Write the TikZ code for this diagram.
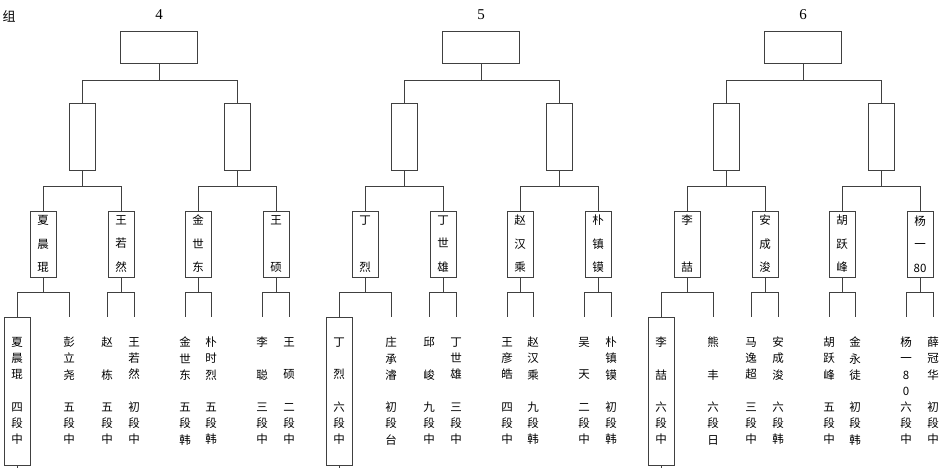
\documentclass[tikz,border=0pt]{standalone}
\usepackage{fontspec}
\newfontfamily\cjk{Noto Sans CJK SC}
\newfontfamily\numfont{Liberation Serif}
\tikzset{
	wire/.style={draw=black!75, line width=1pt},
	final/.style={wire, minimum width=77pt, minimum height=32pt, inner sep=0pt},
	semi/.style={wire, minimum width=26pt, minimum height=66pt, inner sep=0pt},
	quarter/.style={semi, align=center, font=\cjk\fontsize{11.5}{23.5}\selectfont},
	seat/.style={minimum width=26pt, minimum height=148pt, inner sep=0pt, align=center, font=\cjk\fontsize{11.5}{16.2}\selectfont},
	winner/.style={seat, wire},
	groupno/.style={font=\numfont\fontsize{15}{18}\selectfont}
}
\begin{document}
\begin{tikzpicture}[x=1pt, y=-1pt]
		\useasboundingbox (0,0) rectangle (950,468);
		\node[font=\cjk\fontsize{13}{15}\selectfont] (zu) at (9,16) {组};
		
		% group 4
		\begin{scope}[shift={(159,0)}]
		\node[groupno] (n4) at (0,15) {4};
		\node[final] (f4) at (0,48) {};
		\node[semi] (h4a) at (-77,137) {};
		\node[semi] (h4b) at (78,137) {};
		\node[quarter] (q4a) at (-116,244) {夏\\晨\\琨};
		\node[quarter] (q4b) at (-38,244) {王\\若\\然};
		\node[quarter] (q4c) at (39,244) {金\\世\\东};
		\node[quarter] (q4d) at (117,244) {王\\~\\硕};
		\node[winner] (s4a) at (-142,391) {夏\\晨\\琨\\~\\四\\段\\中};
		\node[seat] (s4b) at (-90,391) {彭\\立\\尧\\~\\五\\段\\中};
		\node[seat] (s4c) at (-52,391) {赵\\~\\栋\\~\\五\\段\\中};
		\node[seat] (s4d) at (-25,391) {王\\若\\然\\~\\初\\段\\中};
		\node[seat] (s4e) at (26,391) {金\\世\\东\\~\\五\\段\\韩};
		\node[seat] (s4f) at (52,391) {朴\\时\\烈\\~\\五\\段\\韩};
		\node[seat] (s4g) at (103,391) {李\\~\\聪\\~\\三\\段\\中};
		\node[seat] (s4h) at (130,391) {王\\~\\硕\\~\\二\\段\\中};
		
		\draw[wire] (f4.south) -- ++(0,16);
		\draw[wire] (h4a.north) |- ([yshift=-16pt]f4.south) -| (h4b.north);
		\draw[wire] (h4a.south) -- ++(0,16);
		\draw[wire] (q4a.north) |- ([yshift=-16pt]h4a.south) -| (q4b.north);
		\draw[wire] (h4b.south) -- ++(0,16);
		\draw[wire] (q4c.north) |- ([yshift=-16pt]h4b.south) -| (q4d.north);
		\draw[wire] (q4a.south) -- ++(0,15);
		\draw[wire] (s4a.north) |- ([yshift=-15pt]q4a.south) -| (s4b.north);
		\draw[wire] (q4b.south) -- ++(0,15);
		\draw[wire] (s4c.north) |- ([yshift=-15pt]q4b.south) -| (s4d.north);
		\draw[wire] (q4c.south) -- ++(0,15);
		\draw[wire] (s4e.north) |- ([yshift=-15pt]q4c.south) -| (s4f.north);
		\draw[wire] (q4d.south) -- ++(0,15);
		\draw[wire] (s4g.north) |- ([yshift=-15pt]q4d.south) -| (s4h.north);
		\draw[wire] (s4a.south) -- ++(0,6);
		\end{scope}
		
		% group 5
		\begin{scope}[shift={(481,0)}]
		\node[groupno] (n5) at (0,15) {5};
		\node[final] (f5) at (0,48) {};
		\node[semi] (h5a) at (-77,137) {};
		\node[semi] (h5b) at (78,137) {};
		\node[quarter] (q5a) at (-116,244) {丁\\~\\烈};
		\node[quarter] (q5b) at (-38,244) {丁\\世\\雄};
		\node[quarter] (q5c) at (39,244) {赵\\汉\\乘};
		\node[quarter] (q5d) at (117,244) {朴\\镇\\镆};
		\node[winner] (s5a) at (-142,391) {丁\\~\\烈\\~\\六\\段\\中};
		\node[seat] (s5b) at (-90,391) {庄\\承\\濬\\~\\初\\段\\台};
		\node[seat] (s5c) at (-52,391) {邱\\~\\峻\\~\\九\\段\\中};
		\node[seat] (s5d) at (-25,391) {丁\\世\\雄\\~\\三\\段\\中};
		\node[seat] (s5e) at (26,391) {王\\彦\\皓\\~\\四\\段\\中};
		\node[seat] (s5f) at (52,391) {赵\\汉\\乘\\~\\九\\段\\韩};
		\node[seat] (s5g) at (103,391) {吴\\~\\天\\~\\二\\段\\中};
		\node[seat] (s5h) at (130,391) {朴\\镇\\镆\\~\\初\\段\\韩};
		
		\draw[wire] (f5.south) -- ++(0,16);
		\draw[wire] (h5a.north) |- ([yshift=-16pt]f5.south) -| (h5b.north);
		\draw[wire] (h5a.south) -- ++(0,16);
		\draw[wire] (q5a.north) |- ([yshift=-16pt]h5a.south) -| (q5b.north);
		\draw[wire] (h5b.south) -- ++(0,16);
		\draw[wire] (q5c.north) |- ([yshift=-16pt]h5b.south) -| (q5d.north);
		\draw[wire] (q5a.south) -- ++(0,15);
		\draw[wire] (s5a.north) |- ([yshift=-15pt]q5a.south) -| (s5b.north);
		\draw[wire] (q5b.south) -- ++(0,15);
		\draw[wire] (s5c.north) |- ([yshift=-15pt]q5b.south) -| (s5d.north);
		\draw[wire] (q5c.south) -- ++(0,15);
		\draw[wire] (s5e.north) |- ([yshift=-15pt]q5c.south) -| (s5f.north);
		\draw[wire] (q5d.south) -- ++(0,15);
		\draw[wire] (s5g.north) |- ([yshift=-15pt]q5d.south) -| (s5h.north);
		\draw[wire] (s5a.south) -- ++(0,6);
		\end{scope}
		
		% group 6
		\begin{scope}[shift={(803,0)}]
		\node[groupno] (n6) at (0,15) {6};
		\node[final] (f6) at (0,48) {};
		\node[semi] (h6a) at (-77,137) {};
		\node[semi] (h6b) at (78,137) {};
		\node[quarter] (q6a) at (-116,244) {李\\~\\喆};
		\node[quarter] (q6b) at (-38,244) {安\\成\\浚};
		\node[quarter] (q6c) at (39,244) {胡\\跃\\峰};
		\node[quarter] (q6d) at (117,244) {杨\\一\\80};
		\node[winner] (s6a) at (-142,391) {李\\~\\喆\\~\\六\\段\\中};
		\node[seat] (s6b) at (-90,391) {熊\\~\\丰\\~\\六\\段\\日};
		\node[seat] (s6c) at (-52,391) {马\\逸\\超\\~\\三\\段\\中};
		\node[seat] (s6d) at (-25,391) {安\\成\\浚\\~\\六\\段\\韩};
		\node[seat] (s6e) at (26,391) {胡\\跃\\峰\\~\\五\\段\\中};
		\node[seat] (s6f) at (52,391) {金\\永\\徒\\~\\初\\段\\韩};
		\node[seat] (s6g) at (103,391) {杨\\一\\8\\0\\六\\段\\中};
		\node[seat] (s6h) at (130,391) {薛\\冠\\华\\~\\初\\段\\中};
		
		\draw[wire] (f6.south) -- ++(0,16);
		\draw[wire] (h6a.north) |- ([yshift=-16pt]f6.south) -| (h6b.north);
		\draw[wire] (h6a.south) -- ++(0,16);
		\draw[wire] (q6a.north) |- ([yshift=-16pt]h6a.south) -| (q6b.north);
		\draw[wire] (h6b.south) -- ++(0,16);
		\draw[wire] (q6c.north) |- ([yshift=-16pt]h6b.south) -| (q6d.north);
		\draw[wire] (q6a.south) -- ++(0,15);
		\draw[wire] (s6a.north) |- ([yshift=-15pt]q6a.south) -| (s6b.north);
		\draw[wire] (q6b.south) -- ++(0,15);
		\draw[wire] (s6c.north) |- ([yshift=-15pt]q6b.south) -| (s6d.north);
		\draw[wire] (q6c.south) -- ++(0,15);
		\draw[wire] (s6e.north) |- ([yshift=-15pt]q6c.south) -| (s6f.north);
		\draw[wire] (q6d.south) -- ++(0,15);
		\draw[wire] (s6g.north) |- ([yshift=-15pt]q6d.south) -| (s6h.north);
		\draw[wire] (s6a.south) -- ++(0,6);
		\end{scope}
		
\end{tikzpicture}
\end{document}
